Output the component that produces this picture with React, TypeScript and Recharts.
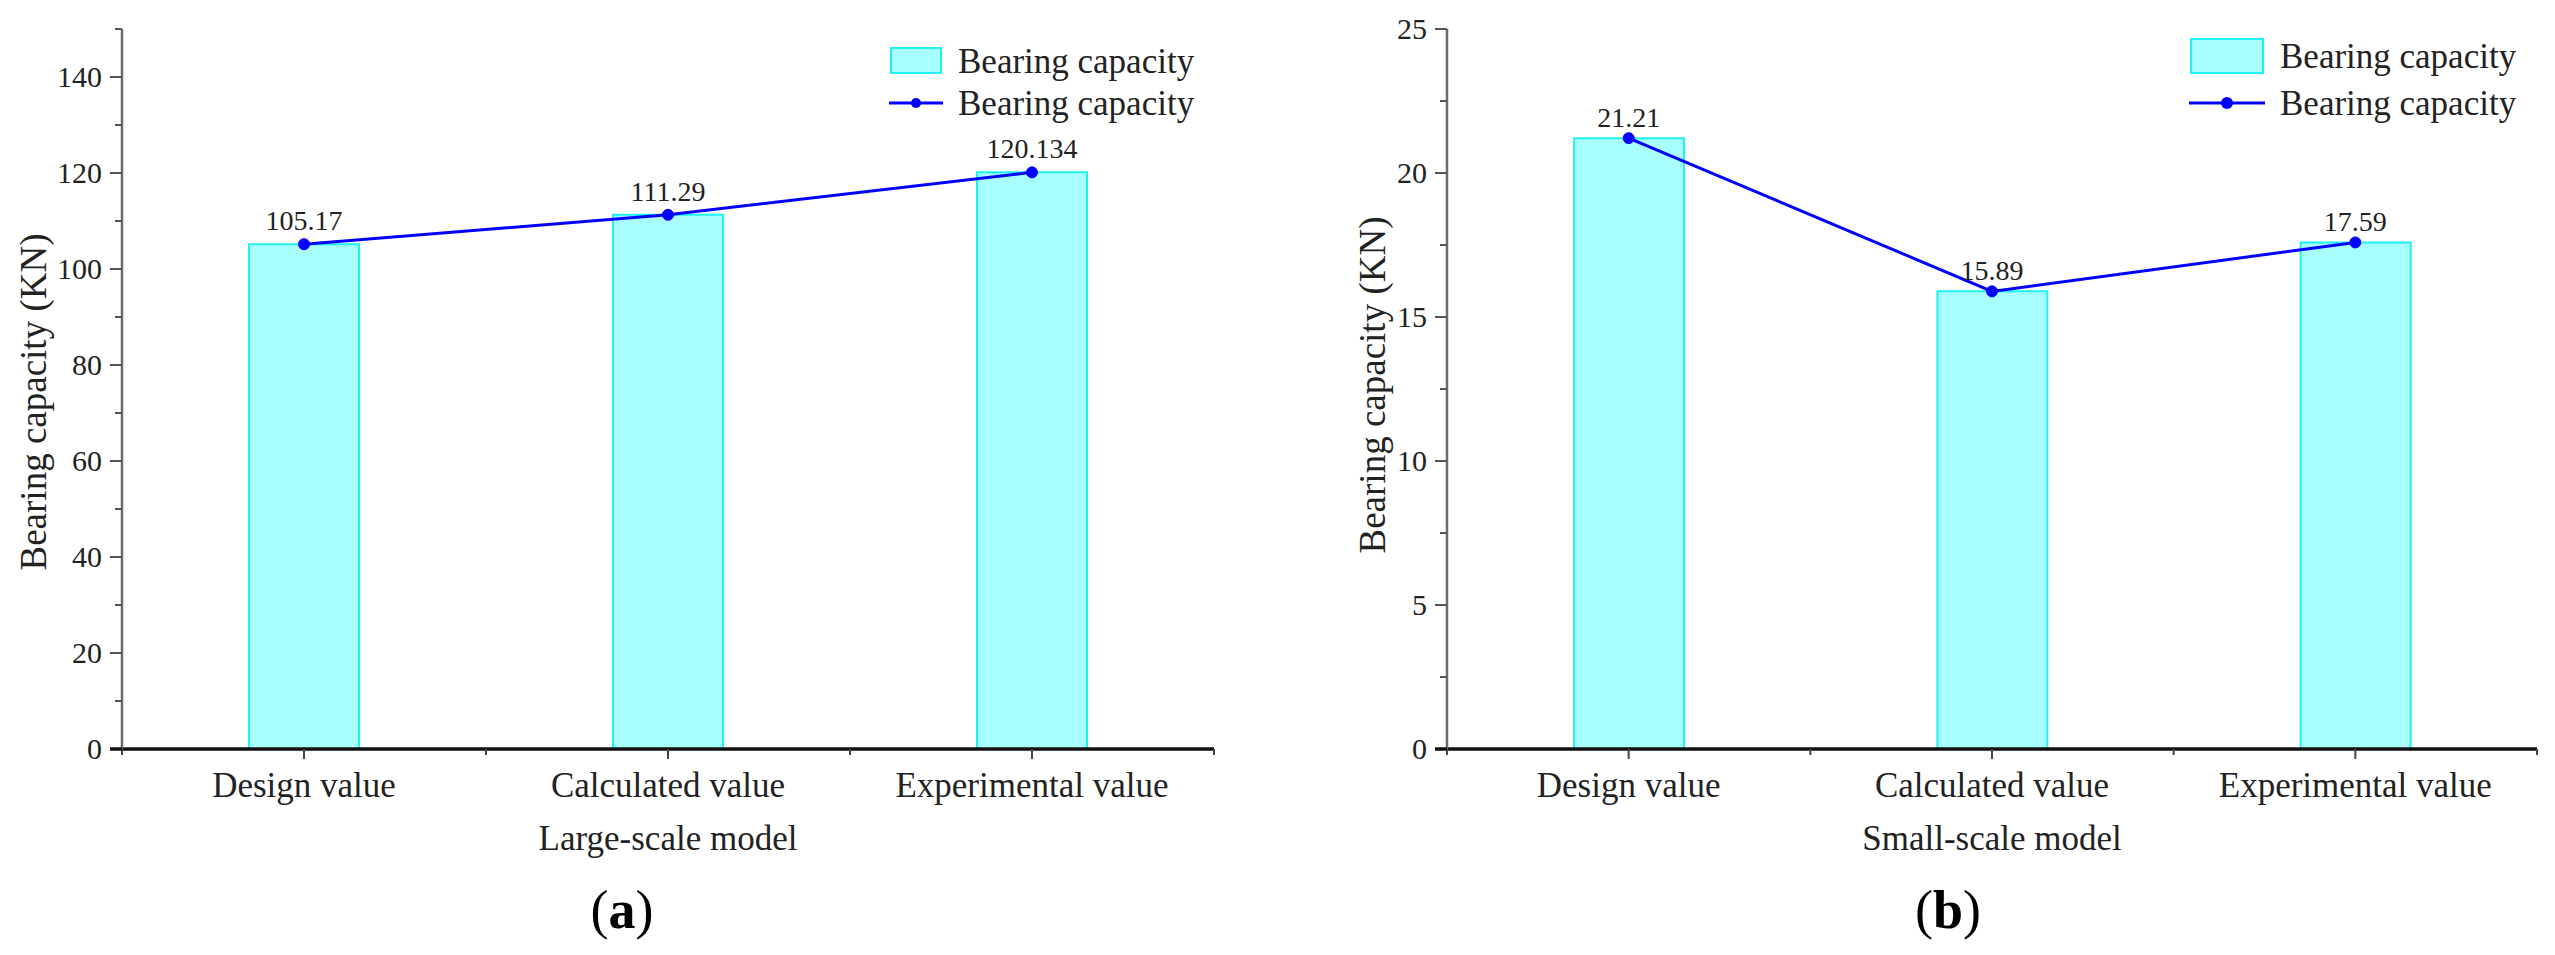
import React from 'react';
import { ComposedChart, Bar, Line, XAxis, YAxis, Legend, LabelList } from 'recharts';

// values
const categories = ['Design value', 'Calculated value', 'Experimental value'];
const largeScale = [105.17, 111.29, 120.134];
const smallScale = [21.21, 15.89, 17.59];

const largeTicks = [0, 10, 20, 30, 40, 50, 60, 70, 80, 90, 100, 110, 120, 130, 140, 150];
const largeLabels = [0, 20, 40, 60, 80, 100, 120, 140];
const smallTicks = [0, 2.5, 5, 7.5, 10, 12.5, 15, 17.5, 20, 22.5, 25];
const smallLabels = [0, 5, 10, 15, 20, 25];

const seriesName = 'Bearing capacity';
const yTitle = 'Bearing capacity (KN)';

const FONT = '"Liberation Serif", "Times New Roman", serif';
const TEXT = '#222';
const BAR_FILL = '#A8FFFF';
const BAR_STROKE = '#1EF2F2';
const LINE = '#0000FF';

const Y_TICK_SIZE = 12;
const Y_TICK_MARGIN = 8;
const X_TICK_SIZE = 10;
const X_TICK_MARGIN = 4;

const toRows = (values: number[]) => categories.map((name, i) => ({ name, value: values[i] }));

const makeYTick = (labels: number[]) => (props: any) => {
  const { x, y, payload } = props;
  const axisX = x + Y_TICK_SIZE + Y_TICK_MARGIN;
  const major = labels.includes(payload.value);
  const isZero = payload.value === 0;
  return (
    <g>
      <line
        x1={axisX - (major ? Y_TICK_SIZE : 7)}
        x2={axisX}
        y1={y}
        y2={y}
        stroke={isZero ? '#111' : '#555'}
        strokeWidth={isZero ? 3.5 : 2}
      />
      {major && (
        <text x={x} y={y + 10} textAnchor="end" fontSize={30} fontFamily={FONT} fill={TEXT}>
          {payload.value}
        </text>
      )}
    </g>
  );
};

const makeXTick = (band: number) => (props: any) => {
  const { x, y, payload, index } = props;
  const axisY = y - X_TICK_SIZE - X_TICK_MARGIN;
  return (
    <g>
      <line x1={x} x2={x} y1={axisY} y2={axisY + X_TICK_SIZE} stroke="#444" strokeWidth={2} />
      <line x1={x + band / 2} x2={x + band / 2} y1={axisY} y2={axisY + 6} stroke="#444" strokeWidth={2} />
      {index === 0 && (
        <line x1={x - band / 2} x2={x - band / 2} y1={axisY} y2={axisY + 6} stroke="#444" strokeWidth={2} />
      )}
      <text x={x} y={axisY + 48} textAnchor="middle" fontSize={35} fontFamily={FONT} fill={TEXT}>
        {payload.value}
      </text>
    </g>
  );
};

const makeLegend = (box: { w: number; h: number }, gap: number, dotR: number) => () => {
  const textX = box.w + gap;
  const row2 = box.h + 32;
  return (
    <svg width={330} height={row2 + 25} style={{ overflow: 'visible', display: 'block' }}>
      <rect x={2} y={2} width={box.w} height={box.h} fill={BAR_FILL} stroke={BAR_STROKE} strokeWidth={2} />
      <text x={textX} y={2 + box.h / 2 + 12} fontSize={35} fontFamily={FONT} fill={TEXT}>
        {seriesName}
      </text>
      <line x1={0} x2={box.w + 4} y1={row2} y2={row2} stroke={LINE} strokeWidth={3} />
      <circle cx={(box.w + 4) / 2} cy={row2} r={dotR} fill={LINE} />
      <text x={textX} y={row2 + 12} fontSize={35} fontFamily={FONT} fill={TEXT}>
        {seriesName}
      </text>
    </svg>
  );
};

interface PanelProps {
  left: number;
  width: number;
  plotLeft: number;
  plotRight: number;
  values: number[];
  ticks: number[];
  labels: number[];
  max: number;
  legendPos: { left: number; top: number };
  legendBox: { w: number; h: number };
  legendGap: number;
  legendDot: number;
  labelOffset: number;
  xTitle: string;
  caption: string;
  yTitleX: number;
  yTitleY: number;
  captionX: number;
}

const PLOT_TOP = 29;
const PLOT_BOTTOM = 749;
const HEIGHT = 955;
const Y_AXIS_W = 80;
const X_AXIS_H = 60;

const Panel: React.FC<PanelProps> = (p) => {
  const plotW = p.plotRight - p.plotLeft;
  const band = plotW / categories.length;
  const centerX = (p.plotLeft + p.plotRight) / 2 - p.left;
  return (
    <div style={{ position: 'absolute', left: p.left, top: 0, width: p.width, height: HEIGHT }}>
      <ComposedChart
        width={p.width}
        height={HEIGHT}
        data={toRows(p.values)}
        barCategoryGap={0}
        margin={{
          top: PLOT_TOP,
          right: p.left + p.width - p.plotRight,
          left: p.plotLeft - p.left - Y_AXIS_W,
          bottom: HEIGHT - PLOT_BOTTOM - X_AXIS_H,
        }}
      >
        <XAxis
          dataKey="name"
          height={X_AXIS_H}
          interval={0}
          tickLine={false}
          tickSize={X_TICK_SIZE}
          tickMargin={X_TICK_MARGIN}
          axisLine={{ stroke: '#111', strokeWidth: 3.5 }}
          tick={makeXTick(band)}
        />
        <YAxis
          width={Y_AXIS_W}
          domain={[0, p.max]}
          ticks={p.ticks}
          interval={0}
          tickLine={false}
          tickSize={Y_TICK_SIZE}
          tickMargin={Y_TICK_MARGIN}
          axisLine={{ stroke: '#6a6a6a', strokeWidth: 2.5 }}
          tick={makeYTick(p.labels)}
        />
        <Legend
          layout="horizontal"
          verticalAlign="middle"
          align="center"
          content={makeLegend(p.legendBox, p.legendGap, p.legendDot)}
          wrapperStyle={{ left: p.legendPos.left, top: p.legendPos.top, width: 340 }}
        />
        <Bar
          dataKey="value"
          name={seriesName}
          barSize={110}
          fill={BAR_FILL}
          stroke={BAR_STROKE}
          strokeWidth={2}
          isAnimationActive={false}
        />
        <Line
          dataKey="value"
          name={seriesName}
          type="linear"
          stroke={LINE}
          strokeWidth={3}
          dot={{ r: 5.5, fill: LINE, stroke: LINE, strokeWidth: 1 }}
          activeDot={false}
          isAnimationActive={false}
        >
          <LabelList
            dataKey="value"
            position="top"
            offset={p.labelOffset}
            fontSize={28}
            fontFamily={FONT}
            fill={TEXT}
          />
        </Line>
      </ComposedChart>
      <div
        style={{
          position: 'absolute',
          left: p.yTitleX,
          top: p.yTitleY,
          transform: 'translate(-50%, -50%) rotate(-90deg)',
          whiteSpace: 'nowrap',
          fontFamily: FONT,
          fontSize: 37,
          color: TEXT,
          lineHeight: 1,
        }}
      >
        {yTitle}
      </div>
      <div
        style={{
          position: 'absolute',
          left: centerX,
          top: 838,
          transform: 'translate(-50%, -50%)',
          whiteSpace: 'nowrap',
          fontFamily: FONT,
          fontSize: 35,
          color: TEXT,
          lineHeight: 1,
        }}
      >
        {p.xTitle}
      </div>
      <div
        style={{
          position: 'absolute',
          left: p.captionX - p.left,
          top: 910,
          transform: 'translate(-50%, -50%)',
          whiteSpace: 'nowrap',
          fontFamily: FONT,
          fontSize: 54,
          color: '#000',
          lineHeight: 1,
        }}
      >
        (<b>{p.caption}</b>)
      </div>
    </div>
  );
};

export default function App() {
  return (
    <div style={{ position: 'absolute', left: 0, top: 0, width: 2555, height: HEIGHT, background: '#fff' }}>
      <Panel
        left={0}
        width={1245}
        plotLeft={122}
        plotRight={1214}
        values={largeScale}
        ticks={largeTicks}
        labels={largeLabels}
        max={150}
        legendPos={{ left: 889, top: 46 }}
        legendBox={{ w: 50, h: 25 }}
        legendGap={19}
        legendDot={5}
        labelOffset={14}
        xTitle="Large-scale model"
        caption="a"
        yTitleX={33}
        yTitleY={402}
        captionX={622}
      />
      <Panel
        left={1245}
        width={1310}
        plotLeft={1447}
        plotRight={2537}
        values={smallScale}
        ticks={smallTicks}
        labels={smallLabels}
        max={25}
        legendPos={{ left: 2189 - 1245, top: 37 }}
        legendBox={{ w: 72, h: 34 }}
        legendGap={19}
        legendDot={6}
        labelOffset={11}
        xTitle="Small-scale model"
        caption="b"
        yTitleX={1372 - 1245}
        yTitleY={385}
        captionX={1948}
      />
    </div>
  );
}
